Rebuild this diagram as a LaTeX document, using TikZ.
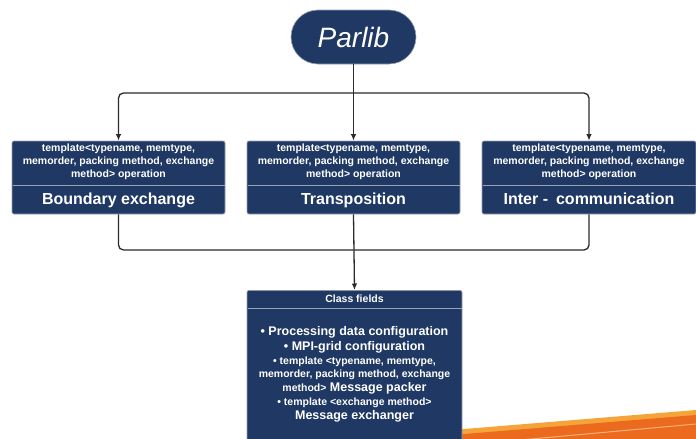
\documentclass[tikz,border=0pt]{standalone}
\usepackage{fontspec}
\setmainfont{Liberation Sans}
\usetikzlibrary{arrows.meta}
\definecolor{navy}{HTML}{1F3864}
\definecolor{edgegray}{HTML}{9AA3B5}
\definecolor{wirecol}{HTML}{2B2B2B}
\definecolor{orangeA}{HTML}{F5A43A}
\definecolor{orangeB}{HTML}{EC6A1E}
\definecolor{orangeC}{HTML}{F7B27A}
\newcommand\lgtxt{\fontsize{12.5}{14}\selectfont}
\newcommand\smtxt{\fontsize{10.5}{14}\selectfont}
\begin{document}
\begin{tikzpicture}[x=1pt,y=-1pt,
  pill/.style={draw=edgegray, line width=0.6pt, fill=navy, rounded corners=27pt,
    minimum width=125pt, minimum height=54pt, text=white,
    font=\itshape\fontsize{28}{30}\selectfont},
  opbox/.style={draw=edgegray, line width=0.6pt, fill=navy, rounded corners=2pt,
    minimum width=213pt, minimum height=73pt, inner sep=0pt},
  small/.style={text=white, font=\bfseries\fontsize{10.5}{13}\selectfont, align=center, inner sep=0pt},
  title/.style={text=white, font=\bfseries\fontsize{16}{19}\selectfont, inner sep=0pt, anchor=base},
  bigline/.style={text=white, font=\bfseries\lgtxt, inner sep=0pt, anchor=base},
  smline/.style={text=white, font=\bfseries\smtxt, inner sep=0pt, anchor=base},
  divider/.style={draw=edgegray, line width=0.8pt},
  wire/.style={draw=wirecol, line width=1.3pt, rounded corners=5pt},
  arr/.style={wire, -{Latex[length=6.5pt,width=5.5pt]}}]
\useasboundingbox (0,0) rectangle (696,439);
\clip (0,0) rectangle (696,439);
\fill[white] (0,0) rectangle (696,439);
% orange swoosh
\fill[orangeA] (440,431) -- (696,410) -- (696,439) -- (440,439) -- cycle;
\fill[orangeB] (440,436) -- (696,415) -- (696,439) -- (440,439) -- cycle;
\draw[orangeC, line width=1pt] (520,440) -- (696,424);
% nodes
\node[pill] (parlib) at (353.5,37) {Parlib};
\node[opbox] (b1) at (118.5,177.5) {};
\node[opbox] (b2) at (353.5,177.5) {};
\node[opbox, minimum width=214pt] (b3) at (589,177.5) {};
\draw[divider] (12.5,185) -- (224.5,185);
\draw[divider] (247.5,185) -- (459.5,185);
\draw[divider] (482.5,185) -- (695.5,185);
\node[small] (t1) at (118.5,162) {template<typename, memtype,\\memorder, packing method, exchange\\method> operation};
\node[small] (t2) at (353.5,162) {template<typename, memtype,\\memorder, packing method, exchange\\method> operation};
\node[small] (t3) at (589,162) {template<typename, memtype,\\memorder, packing method, exchange\\method> operation};
\node[title] (n1) at (118.5,204.5) {Boundary exchange};
\node[title] (n2) at (353.5,204.5) {Transposition};
\node[title] (n3) at (589,204.5) {Inter -\enspace communication};
\node[opbox, minimum width=215pt, minimum height=170pt, anchor=north] (cf) at (354.5,290) {};
\draw[divider] (247.5,308) -- (461.5,308);
\node[small] (cfh) at (354.5,298.5) {Class fields};
\node[bigline] (l1) at (354.5,335.5) {• Processing data configuration};
\node[bigline] (l2) at (354.5,350.5) {• MPI-grid configuration};
\node[smline] (l3) at (354.5,364) {• template <typename, memtype,};
\node[smline] (l4) at (354.5,377.5) {memorder, packing method, exchange};
\node[bigline] (l5) at (354.5,391.5) {{\smtxt method>} Message packer};
\node[smline] (l6) at (354.5,405) {• template <exchange method>};
\node[bigline] (l7) at (354.5,419.5) {Message exchanger};
% connectors
\coordinate (j1) at (353.5,93);
\coordinate (j2) at (353.5,250);
\draw[arr] (parlib.south) -- (b2.north);
\draw[arr] (j1) -| (b1.north);
\draw[arr] (j1) -| (b3.north);
\draw[wire] (b1.south) |- (j2);
\draw[wire] (b3.south) |- (j2);
\draw[arr] (b2.south) -- (cf.north);
\end{tikzpicture}
\end{document}
